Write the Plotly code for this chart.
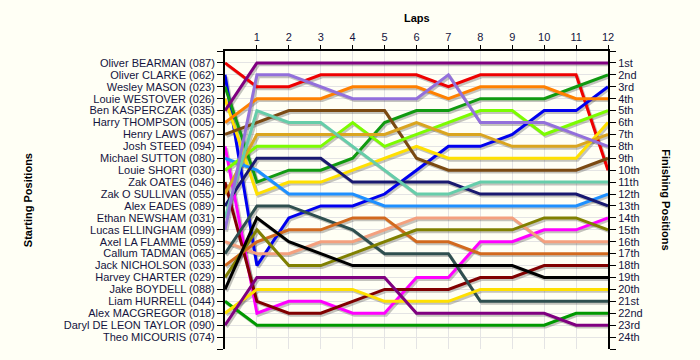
import plotly.graph_objects as go

laps = list(range(0, 13))
lap_ticks = list(range(1, 13))

starting_names = [
    "Oliver BEARMAN (087)", "Oliver CLARKE (062)", "Wesley MASON (023)",
    "Louie WESTOVER (026)", "Ben KASPERCZAK (035)", "Harry THOMPSON (005)",
    "Henry LAWS (067)", "Josh STEED (094)", "Michael SUTTON (080)",
    "Louie SHORT (030)", "Zak OATES (046)", "Zak O SULLIVAN (055)",
    "Alex EADES (089)", "Ethan NEWSHAM (031)", "Lucas ELLINGHAM (099)",
    "Axel LA FLAMME (059)", "Callum TADMAN (065)", "Jack NICHOLSON (033)",
    "Harvey CHARTER (029)", "Jake BOYDELL (088)", "Liam HURRELL (044)",
    "Alex MACGREGOR (018)", "Daryl DE LEON TAYLOR (090)", "Theo MICOURIS (074)",
]

finishing_labels = [
    "1st", "2nd", "3rd", "4th", "5th", "6th", "7th", "8th", "9th", "10th",
    "11th", "12th", "13th", "14th", "15th", "16th", "17th", "18th", "19th",
    "20th", "21st", "22nd", "23rd", "24th",
]

# positions per lap (lap 0 = grid)
pos_bearman = [1, 3, 3, 2, 2, 2, 2, 3, 2, 2, 2, 2, 10]
pos_clarke = [2, 18, 14, 13, 13, 12, 10, 8, 8, 7, 5, 5, 3]
pos_mason = [3, 11, 10, 10, 9, 6, 5, 5, 4, 4, 4, 3, 2]
pos_westover = [4, 12, 11, 11, 10, 9, 8, 9, 9, 9, 9, 9, 6]
pos_kasperczak = [5, 1, 1, 1, 1, 1, 1, 1, 1, 1, 1, 1, 1]
pos_thompson = [6, 4, 4, 4, 3, 3, 3, 4, 3, 3, 3, 4, 4]
pos_laws = [7, 6, 5, 5, 5, 5, 9, 10, 10, 10, 10, 10, 9]
pos_steed = [8, 22, 21, 21, 22, 22, 19, 19, 16, 16, 15, 15, 14]
pos_sutton = [9, 10, 12, 12, 12, 13, 13, 13, 13, 13, 13, 13, 12]
pos_short = [10, 8, 8, 8, 6, 8, 7, 6, 5, 5, 7, 6, 5]
pos_oates = [11, 21, 22, 22, 21, 20, 20, 20, 19, 19, 18, 18, 18]
pos_osullivan = [12, 7, 7, 7, 7, 7, 6, 7, 7, 8, 8, 8, 7]
pos_eades = [13, 9, 9, 9, 11, 11, 11, 11, 12, 12, 12, 12, 13]
pos_newsham = [14, 5, 6, 6, 8, 10, 12, 12, 11, 11, 11, 11, 11]
pos_ellingham = [15, 2, 2, 3, 4, 4, 4, 2, 6, 6, 6, 7, 8]
pos_laflamme = [16, 17, 17, 16, 16, 15, 14, 14, 14, 14, 16, 16, 16]
pos_tadman = [17, 13, 13, 14, 15, 17, 17, 17, 21, 21, 21, 21, 21]
pos_nicholson = [18, 16, 15, 15, 14, 14, 16, 16, 17, 17, 17, 17, 17]
pos_charter = [19, 15, 18, 18, 17, 16, 15, 15, 15, 15, 14, 14, 15]
pos_boydell = [20, 14, 16, 17, 18, 18, 18, 18, 18, 18, 19, 19, 19]
pos_hurrell = [21, 23, 23, 23, 23, 23, 23, 23, 23, 23, 23, 22, 22]
pos_macgregor = [22, 20, 20, 20, 20, 21, 21, 21, 20, 20, 20, 20, 20]
pos_deleontaylor = [23, 19, 19, 19, 19, 19, 22, 22, 22, 22, 22, 23, 23]

series = [
    (pos_bearman, "#EE0000"),
    (pos_clarke, "#0000EE"),
    (pos_mason, "#109A10"),
    (pos_westover, "#FFE000"),
    (pos_kasperczak, "#800080"),
    (pos_thompson, "#FF8000"),
    (pos_laws, "#7B4A12"),
    (pos_steed, "#FF00FF"),
    (pos_sutton, "#1E90FF"),
    (pos_short, "#7CFC00"),
    (pos_oates, "#800000"),
    (pos_osullivan, "#DAA520"),
    (pos_eades, "#191970"),
    (pos_newsham, "#66CDAA"),
    (pos_ellingham, "#9370DB"),
    (pos_laflamme, "#F4A07E"),
    (pos_tadman, "#2F4F4F"),
    (pos_nicholson, "#D2691E"),
    (pos_charter, "#808000"),
    (pos_boydell, "#000000"),
    (pos_hurrell, "#009900"),
    (pos_macgregor, "#FFE000"),
    (pos_deleontaylor, "#800080"),
]

BG = "#FFFFF5"
TXT = "#141440"
FONT = "Liberation Sans, Arial, sans-serif"

fig = go.Figure()

# drop shadows (offset copies) underneath
for pos, col in series:
    fig.add_trace(go.Scatter(
        x=[l + 0.05 for l in laps], y=[p + 0.16 for p in pos],
        mode="lines", line=dict(color="rgba(60,60,60,0.30)", width=3),
        hoverinfo="skip", yaxis="y",
    ))

for pos, col in series:
    fig.add_trace(go.Scatter(
        x=laps, y=pos, mode="lines",
        line=dict(color=col, width=3), yaxis="y2",
    ))

ytickvals = list(range(0, 26))
left_text = [""] + starting_names + [""]
right_text = [""] + finishing_labels + [""]

fig.update_layout(
    width=700, height=360,
    margin=dict(l=225, r=92, t=51, b=11),
    paper_bgcolor=BG, plot_bgcolor=BG,
    showlegend=False,
    font=dict(family=FONT, size=11, color=TXT),
    xaxis=dict(
        range=[0, 12], side="top", tickvals=lap_ticks,
        ticks="outside", ticklen=4, tickwidth=1, tickcolor="black",
        showline=True, linecolor="black", linewidth=2,
        showgrid=True, gridcolor="#E4E4E4", gridwidth=1,
        zeroline=False, tickfont=dict(size=11, color=TXT),
    ),
    yaxis=dict(
        range=[25, 0], tickvals=ytickvals, ticktext=left_text,
        ticks="outside", ticklen=6, tickwidth=1, tickcolor="black",
        showline=True, linecolor="black", linewidth=2,
        showgrid=True, gridcolor="#E4E4E4", gridwidth=1,
        zeroline=False, tickfont=dict(size=11, color=TXT),
    ),
    yaxis2=dict(
        range=[25, 0], overlaying="y", side="right",
        tickvals=ytickvals, ticktext=right_text,
        ticks="outside", ticklen=6, tickwidth=1, tickcolor="black",
        showline=True, linecolor="black", linewidth=2,
        showgrid=False, zeroline=False, tickfont=dict(size=11, color=TXT),
    ),
    annotations=[
        dict(text="<b>Laps</b>", xref="paper", yref="paper", x=0.5, y=1.111,
             xanchor="center", yanchor="middle", showarrow=False,
             font=dict(size=11, color="black", family=FONT)),
        dict(text="<b>Starting Positions</b>", xref="paper", yref="paper",
             x=-0.514, y=0.5, textangle=-90, xanchor="center", yanchor="middle",
             showarrow=False, font=dict(size=11, color="black", family=FONT)),
        dict(text="<b>Finishing Positions</b>", xref="paper", yref="paper",
             x=1.151, y=0.5, textangle=90, xanchor="center", yanchor="middle",
             showarrow=False, font=dict(size=11, color="black", family=FONT)),
    ],
)

fig.write_html(
    "out.html",
    config={"displayModeBar": False},
    post_script="document.body.style.margin='0';document.body.style.background='#FFFFF5';",
)
